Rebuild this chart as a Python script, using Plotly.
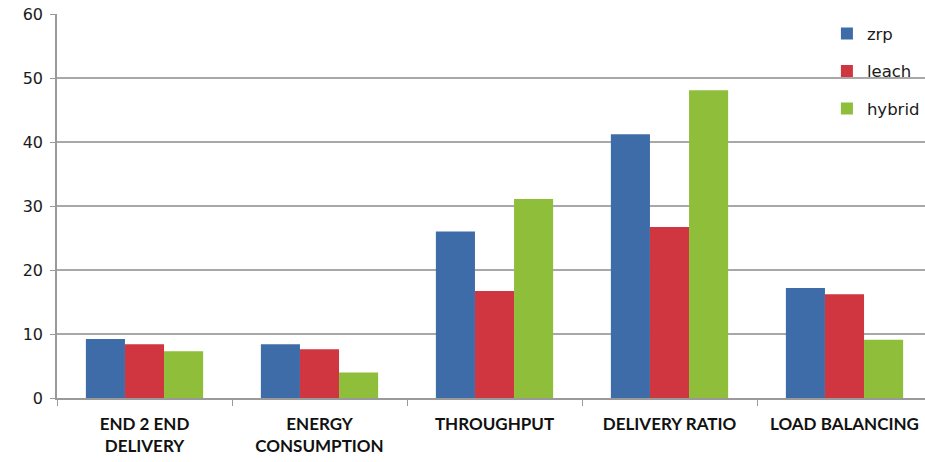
import plotly.graph_objects as go

categories = ["END 2 END<br>DELIVERY", "ENERGY<br>CONSUMPTION", "THROUGHPUT",
              "DELIVERY RATIO", "LOAD BALANCING"]
zrp = [9.2, 8.4, 26.0, 41.2, 17.2]
leach = [8.4, 7.6, 16.7, 26.7, 16.2]
hybrid = [7.3, 4.0, 31.1, 48.1, 9.1]
y_ticks = [0, 10, 20, 30, 40, 50, 60]

series = [("zrp", zrp, "#3E6CA8"), ("leach", leach, "#CF363F"), ("hybrid", hybrid, "#8FBE3A")]

fig = go.Figure()
for name, vals, color in series:
    fig.add_trace(go.Bar(
        name=name, x=categories, y=vals, marker_color=color,
        marker_line_width=0, legendgroup=name,
    ))

fig.update_layout(
    width=925, height=462,
    margin=dict(l=57, r=0, t=14, b=64, autoexpand=False),
    paper_bgcolor="white", plot_bgcolor="white",
    barmode="group", bargap=0.33, bargroupgap=0,
    font=dict(family="DejaVu Sans, sans-serif", color="#1a1a1a"),
    legend=dict(
        x=0.887, y=0.994, xanchor="left", yanchor="top",
        bgcolor="rgba(0,0,0,0)", tracegroupgap=13,
        font=dict(size=16.5, color="#1a1a1a"),
    ),
    xaxis=dict(
        range=[-0.5, 4.46], showgrid=False,
        showline=True, linecolor="#9a9a9a", linewidth=1.5,
        ticks="outside", tickson="boundaries", ticklen=6, tickcolor="#9a9a9a",
        ticklabelstandoff=10,
        tickfont=dict(size=17, family="Lato, sans-serif", weight="bold", color="#111"),
    ),
    yaxis=dict(
        range=[0, 60], tickvals=y_ticks, showgrid=True, gridcolor="#a8a8a8", gridwidth=1.5,
        showline=True, linecolor="#9a9a9a", linewidth=1.5,
        ticks="outside", ticklen=5, tickcolor="#9a9a9a", ticklabelstandoff=4,
        tickfont=dict(size=16), zeroline=False,
    ),
)

fig.write_html("out.html")
